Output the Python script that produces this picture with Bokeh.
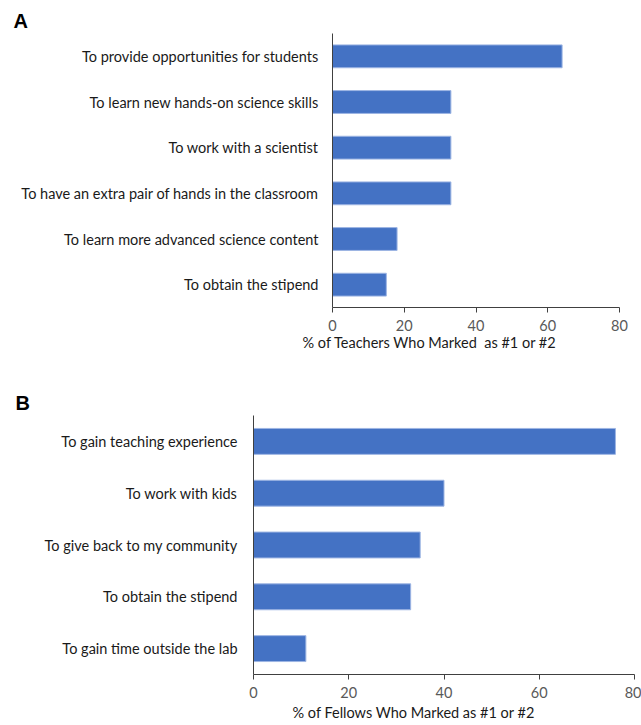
from bokeh.plotting import figure
from bokeh.models import ColumnDataSource, FactorRange, Range1d, Title
from bokeh.embed import file_html
from bokeh.resources import INLINE

# Panel A: teachers' top reasons
teacher_reasons = [
    "To provide opportunities for students",
    "To learn new hands-on science skills",
    "To work with a scientist",
    "To have an extra pair of hands in the classroom",
    "To learn more advanced science content",
    "To obtain the stipend",
]
teacher_pct = [64, 33, 33, 33, 18, 15]

# Panel B: fellows' top reasons
fellow_reasons = [
    "To gain teaching experience",
    "To work with kids",
    "To give back to my community",
    "To obtain the stipend",
    "To gain time outside the lab",
]
fellow_pct = [76, 40, 35, 33, 11]

x_ticks = [0, 20, 40, 60, 80]

FONT = "Lato"
BAR = "#4472C4"
AXIS = "#404040"


def panel(reasons, pct, letter, xlabel, fw, fh, left, right, top, bottom,
          label_standoff, xlabel_offset, xlabel_standoff, letter_offset):
    src = ColumnDataSource(dict(reason=reasons, pct=pct))
    p = figure(
        y_range=FactorRange(factors=list(reversed(reasons)), range_padding=0),
        x_range=Range1d(0, 80),
        frame_width=fw, frame_height=fh,
        min_border_left=left, min_border_right=right,
        min_border_top=top, min_border_bottom=bottom,
        output_backend="svg", toolbar_location=None,
    )
    p.hbar(y="reason", left=0, right="pct", height=0.5, source=src,
           fill_color=BAR, line_color="#9DB5E3", line_width=1)

    p.outline_line_color = None
    p.xgrid.grid_line_color = None
    p.ygrid.grid_line_color = None

    xa = p.xaxis[0]
    xa.ticker = x_ticks
    xa.axis_line_color = AXIS
    xa.major_tick_line_color = AXIS
    xa.major_tick_in = 0
    xa.major_tick_out = 5
    xa.minor_tick_line_color = None
    xa.major_label_standoff = 7
    xa.major_label_text_font = FONT
    xa.major_label_text_font_size = "14.5px"
    xa.major_label_text_color = "#595959"

    ya = p.yaxis[0]
    ya.axis_line_color = AXIS
    ya.major_tick_line_color = None
    ya.minor_tick_line_color = None
    ya.major_tick_in = 0
    ya.major_tick_out = 0
    ya.major_label_standoff = label_standoff
    ya.major_label_text_font = FONT
    ya.major_label_text_font_size = "14.5px"
    ya.major_label_text_color = "#1a1a1a"

    # x-axis title, set below the tick labels
    p.add_layout(Title(text=xlabel, align="left", offset=xlabel_offset,
                       text_font=FONT, text_font_size="14.5px",
                       text_font_style="normal", text_color="#1a1a1a",
                       standoff=xlabel_standoff), "below")
    # panel letter in the top-left corner
    p.title.text = letter
    p.title.align = "left"
    p.title.offset = letter_offset
    p.title.text_font = "Liberation Sans"
    p.title.text_font_size = "20px"
    p.title.text_font_style = "bold"
    p.title.text_color = "black"
    p.title.standoff = 3
    return p


pa = panel(teacher_reasons, teacher_pct, "A",
           "% of Teachers Who Marked\u00a0 as #1 or #2",
           fw=287, fh=274, left=332, right=22, top=33, bottom=73,
           label_standoff=14, xlabel_offset=-30, xlabel_standoff=-3,
           letter_offset=-319)

pb = panel(fellow_reasons, fellow_pct, "B",
           "% of Fellows Who Marked as #1 or #2",
           fw=381, fh=259, left=253, right=7, top=35, bottom=51,
           label_standoff=16, xlabel_offset=39, xlabel_standoff=3,
           letter_offset=-238)

open("out.html", "w").write(file_html([pa, pb], INLINE))
